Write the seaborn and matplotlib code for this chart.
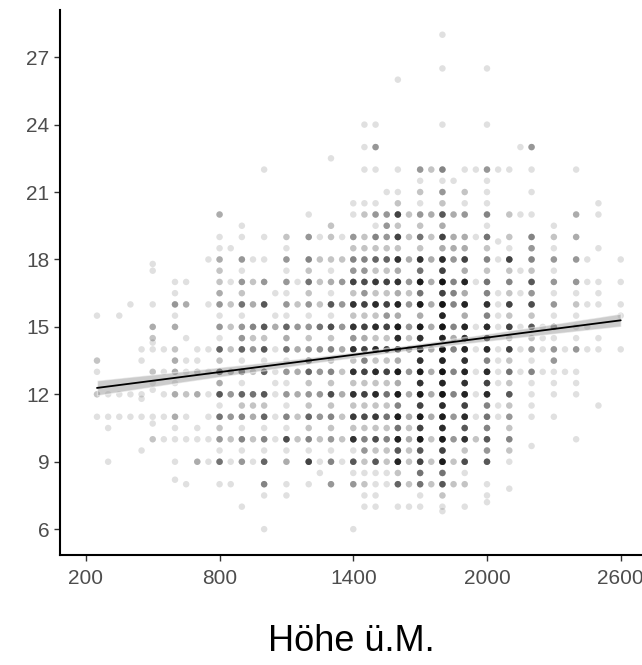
import numpy as np
import pandas as pd
import matplotlib
matplotlib.use("Agg")
import matplotlib.pyplot as plt
import seaborn as sns

# x columns (elevation, m a.s.l.)
columns = [250, 300, 350, 400, 450, 500, 550, 600, 650, 700, 750, 800, 850, 900, 950,
           1000, 1050, 1100, 1150, 1200, 1250, 1300, 1350, 1400, 1450, 1500, 1550, 1600,
           1650, 1700, 1750, 1800, 1850, 1900, 1950, 2000, 2050, 2100, 2150, 2200, 2250,
           2300, 2350, 2400, 2450, 2500, 2600]

# y values present in each column
temps_by_column = [
    [15.5, 13.5, 13, 12, 11],
    [12, 11, 10.5, 9],
    [15.5, 12, 11],
    [16, 12, 11],
    [14, 13.5, 12, 11.8, 11, 9.5],
    [17.8, 17.5, 16, 15, 14.5, 14.3, 14, 13, 12.5, 12.2, 11, 10.7, 10],
    [14, 13, 12, 11, 10],
    [17, 16.5, 16, 15.5, 15, 14, 13.5, 13, 12.5, 12, 11, 10.5, 10, 9, 8.2],
    [17, 16, 14.5, 13.5, 13, 12, 11, 10, 8],
    [14, 13.5, 13, 12, 10.5, 10, 9],
    [18, 16, 14, 13, 12, 11, 10, 9],
    [20, 19, 18.5, 18, 17.5, 17, 16.5, 16, 15.5, 15, 14.5, 14, 13.5, 13, 12.5, 12, 11.5, 11, 10.5, 10, 9.5, 9, 8],
    [18.5, 17, 16, 15, 14, 13, 12, 11, 10, 9, 8],
    [19.5, 19, 18, 17.5, 17, 16.5, 16, 15.5, 15, 14.5, 14, 13.5, 13, 12.5, 12, 11.5, 11, 10.5, 10, 9.5, 9, 7],
    [18, 17, 16, 15, 14.5, 14, 13, 12, 11.5, 11, 10, 9],
    [22, 19, 18, 17, 16, 15, 14.5, 14, 13.5, 13, 12, 11.5, 11, 10.5, 10, 9.5, 9, 8, 7.5, 6],
    [16.5, 15.5, 15, 14, 13, 12.5, 12, 11, 10],
    [19, 18.5, 18, 17.5, 17, 16.5, 16, 15.5, 15, 14.5, 14, 13.5, 13, 12.5, 12, 11.5, 11, 10.5, 10, 9.5, 9, 8, 7.5],
    [17, 16, 15, 14, 13, 12, 11, 10],
    [20, 19, 18, 17.5, 17, 16.5, 16, 15.5, 15, 14.5, 14, 13.5, 13, 12.5, 12, 11.5, 11, 10.5, 10, 9.5, 9, 8],
    [19, 18, 17, 16, 15, 14, 13, 12, 11, 10, 9, 8.5],
    [22.5, 19.5, 19, 18, 17.5, 17, 16.5, 16, 15.5, 15, 14.5, 14, 13.5, 13, 12.5, 12, 11.5, 11, 10.5, 10, 9.5, 9, 8],
    [19, 18, 17, 16, 15, 14, 13, 12, 11, 10, 9],
    [20.5, 20, 19, 18.5, 18, 17.5, 17, 16.5, 16, 15.5, 15, 14.5, 14, 13.5, 13, 12.5, 12, 11.5, 11, 10.5, 10, 9.5, 9, 8.5, 8, 6],
    [24, 23, 22, 20.5, 20, 19, 18.5, 18, 17.5, 17, 16.5, 16, 15.5, 15, 14.5, 14, 13.5, 13, 12.5, 12, 11.5, 11, 10.5, 10, 9.5, 9, 8.5, 8, 7.5, 7],
    [24, 23, 22, 20.5, 20, 19.5, 19, 18.5, 18, 17.5, 17, 16.5, 16, 15.5, 15, 14.5, 14, 13.5, 13, 12.5, 12, 11.5, 11, 10.5, 10, 9.5, 9, 8.5, 8, 7.5, 7],
    [21, 20, 19.5, 19, 18.5, 18, 17.5, 17, 16.5, 16, 15.5, 15, 14.5, 14, 13.5, 13, 12.5, 12, 11.5, 11, 10.5, 10, 9.5, 9, 8.5, 8],
    [26, 22, 21, 20.5, 20, 19.5, 19, 18.5, 18, 17.5, 17, 16.5, 16, 15.5, 15, 14.5, 14, 13.5, 13, 12.5, 12, 11.5, 11, 10.5, 10, 9.5, 9, 8.5, 8, 7],
    [20, 19, 18, 17, 16.5, 16, 15, 14.5, 14, 13, 12, 11, 10.5, 10, 9.5, 9, 8, 7],
    [22, 21.5, 21, 20.5, 20, 19.5, 19, 18.5, 18, 17.5, 17, 16.5, 16, 15.5, 15, 14.5, 14, 13.5, 13, 12.5, 12, 11.5, 11, 10.5, 10, 9.5, 9, 8.5, 8, 7.5, 7],
    [22, 20, 19, 18, 17, 16, 15, 14, 13, 12, 11, 10, 9, 8],
    [28, 26.5, 24, 22, 21.5, 21, 20.5, 20, 19.5, 19, 18.5, 18, 17.5, 17, 16.5, 16, 15.5, 15, 14.5, 14, 13.5, 13, 12.5, 12, 11.5, 11, 10.5, 10, 9.5, 9, 8.5, 8, 7.5, 7, 6.8],
    [21.5, 20, 19, 18.5, 18, 17, 16.5, 16, 15, 14.5, 14, 13, 12, 11, 10, 9, 8],
    [22, 21, 20.5, 20, 19, 18.5, 18, 17.5, 17, 16.5, 16, 15.5, 15, 14.5, 14, 13.5, 13, 12.5, 12, 11.5, 11, 10.5, 10, 9.5, 9, 8.5, 8, 7],
    [22, 19, 17, 15, 14, 13, 12, 11, 10],
    [26.5, 24, 22, 21.5, 21, 20.5, 20, 19.5, 19, 18.5, 18, 17.5, 17, 16.5, 16, 15.5, 15, 14.5, 14, 13.5, 13, 12.5, 12, 11.5, 11, 10.5, 10, 9.5, 9, 8, 7.5, 7.2],
    [22, 18.8, 18, 16.5, 16, 15.5, 15, 14, 13.5, 13, 12.5, 11.5, 11],
    [22, 20, 19, 18.5, 18, 17.5, 17, 16.5, 16, 15.5, 15, 14.5, 14, 13.5, 13, 12.5, 12, 11.5, 11, 10.5, 10, 9.5, 9, 7.8],
    [23, 20, 17.5, 16.5, 15, 14, 13],
    [23, 22, 21, 20, 19, 18.5, 18, 17.5, 17, 16.5, 16, 15.5, 15, 14.5, 14, 13.5, 13, 12.5, 12, 11.5, 11, 9.7],
    [15, 14.5, 14, 13],
    [19.5, 19, 18.5, 18, 17.5, 17, 16.5, 16, 15.5, 15, 14.5, 14, 13.5, 13, 12.5, 12, 11],
    [14, 13],
    [22, 20, 19, 18, 17, 16.5, 16, 15.5, 15, 14.5, 14, 13, 12.5, 12, 10],
    [18, 17, 16, 15, 14],
    [20.5, 20, 18.5, 17, 16.5, 16, 14.5, 14, 11.5],
    [18, 17, 16, 15.5, 14],
]

# number of overlapping observations at each of those values
counts_by_column = [
    [1, 2, 1, 2, 1],
    [1, 1, 1, 1],
    [1, 1, 1],
    [1, 1, 1],
    [1, 1, 1, 1, 1, 1],
    [1, 1, 1, 3, 2, 1, 1, 2, 1, 1, 1, 1, 2],
    [1, 1, 1, 1, 1],
    [1, 1, 4, 1, 3, 2, 3, 3, 1, 3, 3, 1, 1, 1, 1],
    [1, 3, 1, 1, 1, 2, 1, 1, 1],
    [1, 1, 2, 3, 1, 1, 3],
    [1, 1, 1, 1, 1, 1, 1, 1],
    [3, 1, 1, 3, 2, 2, 3, 4, 1, 4, 1, 7, 2, 8, 3, 8, 1, 6, 2, 4, 1, 6, 1],
    [1, 1, 2, 2, 2, 3, 4, 4, 2, 1, 1],
    [1, 1, 4, 1, 4, 2, 6, 1, 4, 4, 7, 1, 7, 1, 7, 2, 5, 1, 5, 1, 4, 1],
    [1, 2, 3, 5, 2, 4, 2, 6, 2, 3, 2, 1],
    [1, 1, 1, 4, 8, 8, 2, 8, 1, 7, 8, 2, 7, 1, 5, 1, 7, 5, 1, 1],
    [1, 1, 3, 1, 1, 1, 1, 1, 1],
    [2, 1, 4, 1, 4, 1, 4, 1, 7, 3, 6, 1, 4, 1, 4, 1, 5, 1, 9, 1, 3, 1, 1],
    [1, 2, 4, 3, 3, 3, 2, 2],
    [1, 4, 5, 2, 6, 2, 4, 1, 4, 2, 4, 6, 7, 2, 4, 2, 7, 2, 5, 1, 10, 1],
    [1, 2, 2, 2, 6, 4, 4, 4, 4, 2, 1, 1],
    [1, 2, 2, 2, 1, 3, 1, 8, 1, 9, 2, 5, 2, 5, 2, 9, 2, 5, 2, 4, 1, 5, 4],
    [1, 2, 4, 4, 4, 3, 2, 3, 2, 2, 1],
    [1, 1, 4, 2, 5, 4, 10, 2, 12, 2, 12, 4, 12, 2, 12, 2, 12, 2, 11, 2, 12, 1, 8, 1, 4, 1],
    [1, 1, 1, 1, 2, 2, 2, 5, 4, 9, 4, 10, 2, 10, 3, 10, 5, 10, 2, 10, 2, 9, 2, 5, 4, 2, 1, 2, 1, 1],
    [1, 4, 1, 1, 4, 1, 5, 2, 7, 2, 11, 2, 13, 2, 13, 2, 13, 2, 13, 2, 13, 2, 11, 2, 9, 2, 8, 1, 1, 1, 1],
    [1, 4, 4, 4, 2, 7, 2, 10, 2, 10, 4, 10, 2, 10, 2, 10, 2, 6, 2, 6, 2, 5, 2, 2, 1, 1],
    [1, 1, 1, 2, 10, 2, 10, 2, 12, 3, 12, 3, 14, 3, 16, 13, 16, 3, 16, 3, 16, 5, 16, 6, 15, 8, 14, 2, 7, 1],
    [2, 2, 3, 4, 2, 4, 4, 2, 4, 4, 3, 3, 2, 3, 2, 2, 2, 1],
    [4, 1, 2, 1, 4, 2, 6, 2, 12, 6, 16, 6, 16, 3, 16, 12, 16, 12, 16, 12, 16, 10, 16, 10, 16, 8, 10, 6, 6, 1, 1],
    [2, 3, 2, 3, 3, 3, 3, 3, 3, 3, 3, 2, 2, 2],
    [1, 1, 1, 5, 1, 4, 2, 8, 3, 10, 3, 13, 10, 18, 10, 18, 14, 18, 14, 18, 14, 18, 14, 18, 13, 16, 13, 16, 10, 16, 6, 8, 2, 1, 1],
    [1, 3, 3, 3, 4, 5, 5, 5, 5, 3, 5, 5, 5, 4, 4, 2, 2],
    [1, 2, 1, 4, 3, 3, 10, 3, 14, 3, 14, 3, 14, 12, 14, 12, 14, 12, 14, 10, 13, 8, 12, 2, 9, 1, 2, 1],
    [1, 1, 1, 1, 1, 1, 1, 1, 2],
    [1, 1, 4, 1, 1, 1, 5, 1, 6, 2, 5, 2, 6, 5, 12, 5, 13, 10, 13, 5, 13, 10, 13, 5, 6, 5, 8, 4, 8, 1, 1, 1],
    [1, 1, 1, 1, 1, 1, 1, 1, 1, 1, 1, 1, 1],
    [1, 2, 2, 1, 10, 2, 5, 2, 10, 2, 10, 2, 10, 2, 6, 2, 8, 2, 4, 2, 5, 2, 1, 1],
    [1, 1, 1, 1, 1, 1, 1],
    [4, 1, 1, 1, 5, 4, 5, 2, 8, 4, 9, 2, 8, 2, 4, 1, 5, 1, 1, 1, 1, 1],
    [1, 1, 1, 1],
    [1, 2, 1, 4, 1, 4, 1, 4, 1, 5, 1, 4, 4, 1, 1, 1, 1],
    [1, 1],
    [1, 3, 3, 4, 4, 1, 2, 1, 1, 1, 4, 1, 1, 1, 1],
    [1, 1, 1, 1, 1],
    [1, 1, 1, 1, 1, 1, 1, 1, 1],
    [1, 1, 1, 1, 1],
]

x_ticks = [200, 800, 1400, 2000, 2600]
y_ticks = [6, 9, 12, 15, 18, 21, 24, 27]
x_label = "Höhe ü.M."

# expand to one row per observation
xs, ys = [], []
for xc, tv, cv in zip(columns, temps_by_column, counts_by_column):
    for t, c in zip(tv, cv):
        xs.extend([xc] * c)
        ys.extend([t] * c)
df = pd.DataFrame({"hoehe": xs, "temp": ys})

sns.set_theme(style="ticks")
plt.rcParams["font.family"] = ["Liberation Sans", "DejaVu Sans"]

fig = plt.figure(figsize=(6.42, 6.65), dpi=100)
ax = fig.add_axes([60 / 642, 110 / 665, 583 / 642, 545 / 665])

sns.scatterplot(data=df, x="hoehe", y="temp", ax=ax, color="black", alpha=0.12,
                s=22, linewidth=0, edgecolor="none")
sns.regplot(data=df, x="hoehe", y="temp", ax=ax, scatter=False, color="black",
            line_kws={"linewidth": 1.3}, ci=95)
for coll in ax.collections[1:]:
    coll.set_facecolor("#9a9a9a")
    coll.set_alpha(0.5)

ax.set_xlim(84, 2700)
ax.set_ylim(4.85, 29.1)
ax.set_xticks(x_ticks)
ax.set_yticks(y_ticks)
ax.tick_params(axis="both", labelsize=15, labelcolor="#4d4d4d", color="#333333",
               length=4, width=1)
ax.tick_params(axis="x", pad=6)
ax.set_xlabel(x_label, fontsize=26, color="black", labelpad=26)
ax.set_ylabel("")
for side in ["top", "right"]:
    ax.spines[side].set_visible(False)
for side in ["left", "bottom"]:
    ax.spines[side].set_color("black")
    ax.spines[side].set_linewidth(1.5)

fig.savefig("out.png", dpi=100)
